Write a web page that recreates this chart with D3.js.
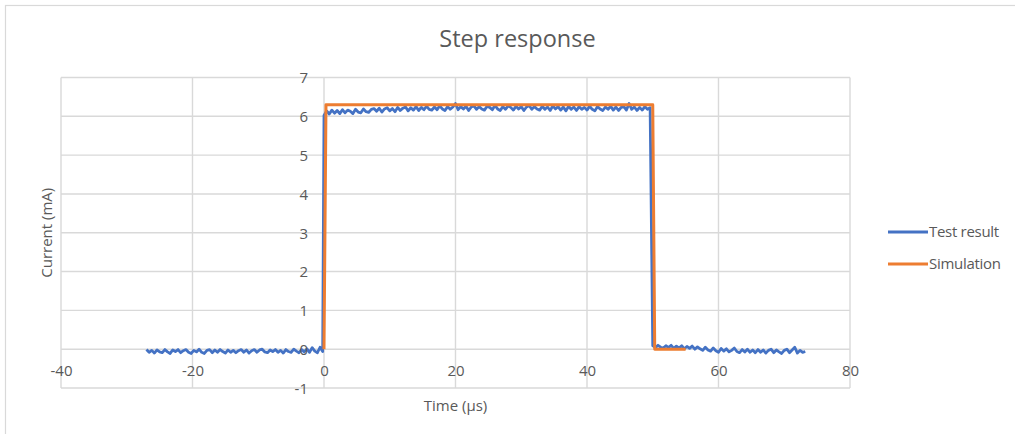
<!DOCTYPE html>
<html>
<head>
<meta charset="utf-8">
<script src="https://cdn.jsdelivr.net/npm/d3@7"></script>
<style>
  html, body { margin: 0; padding: 0; background: #fff; }
  svg { display: block; font-family: "Open Sans", sans-serif; }
</style>
</head>
<body>
<svg id="chart" width="1015" height="434"></svg>
<script>
// Tick values and labels
const xTicks = [-40, -20, 0, 20, 40, 60, 80];
const yTicks = [-1, 0, 1, 2, 3, 4, 5, 6, 7];
const seriesNames = ["Test result", "Simulation"];

// Measured current, sampled every 0.4 µs, in three stretches (mA)
const testPreStart = -27.0;
const testPre = [
  -0.01,-0.08,-0.03,-0.10,-0.02,-0.07,-0.09,-0.01,-0.07,-0.11,-0.02,-0.06,-0.01,-0.09,-0.04,-0.01,-0.08,-0.11,-0.03,-0.07,
   0.00,-0.08,-0.11,-0.03,-0.01,-0.09,-0.02,-0.08,-0.01,-0.06,-0.10,-0.02,-0.08,-0.03,-0.09,-0.04,-0.01,-0.08,-0.02,-0.10,
  -0.04,-0.01,-0.08,-0.02, 0.00,-0.07,-0.09,-0.02,-0.06,-0.01,-0.08,-0.03,-0.10,-0.01,-0.06,-0.08, 0.00,-0.05,-0.09,-0.01,
  -0.07, 0.01,-0.08, 0.04,-0.05,-0.09, 0.05,-0.06
];
const testHighStart = 0.0;
const testHigh = [
  6.02,6.14,6.06,6.16,6.08,6.15,6.07,6.17,6.09,6.16,6.13,6.07,6.18,6.11,6.09,6.19,6.12,6.10,6.18,6.20,
  6.13,6.21,6.11,6.19,6.22,6.14,6.20,6.12,6.23,6.15,6.21,6.24,6.14,6.22,6.16,6.25,6.15,6.23,6.17,6.26,
  6.18,6.16,6.24,6.17,6.27,6.19,6.15,6.25,6.18,6.24,6.33,6.17,6.25,6.19,6.26,6.15,6.24,6.27,6.18,6.25,
  6.19,6.16,6.26,6.23,6.17,6.28,6.19,6.15,6.25,6.18,6.27,6.23,6.16,6.26,6.19,6.25,6.15,6.24,6.28,6.18,
  6.25,6.19,6.16,6.26,6.18,6.24,6.15,6.27,6.19,6.25,6.16,6.24,6.14,6.26,6.18,6.24,6.15,6.25,6.18,6.23,
  6.16,6.26,6.18,6.14,6.25,6.19,6.15,6.24,6.18,6.26,6.16,6.24,6.15,6.23,6.25,6.16,6.33,6.18,6.24,6.15,
  6.23,6.16,6.25,6.18,6.22
];
const testPostStart = 50.0;
const testPost = [
   0.09, 0.04, 0.10, 0.05, 0.03, 0.09, 0.04, 0.10, 0.02, 0.08, 0.03, 0.09, 0.01, 0.07, 0.02, 0.08, 0.00, 0.06, 0.01,-0.03,
   0.05,-0.02,-0.05, 0.03,-0.04,-0.08, 0.02,-0.05, 0.01,-0.07,-0.03, 0.03,-0.06,-0.09,-0.01,-0.07, 0.00,-0.08,-0.02,-0.09,
  -0.01,-0.08,-0.02,-0.10,-0.03, 0.00,-0.09,-0.02,-0.07,-0.11,-0.03, 0.00,-0.09,-0.02, 0.05,-0.10,-0.03,-0.08,-0.06
];
const sampleStep = 0.4;

// Simulated current (µs, mA)
const simTime = [0, 0.3, 50, 50.3, 55];
const simCurrent = [0, 6.3, 6.3, 0, 0];

const svg = d3.select("#chart");
const W = 1015, H = 434;
const plot = { left: 61, right: 850, top: 77.5, bottom: 388 };
const textColor = "#595959";
const gridColor = "#d9d9d9";
const fmt = d => String(d);   // plain hyphen-minus on the axis labels

// Chart frame
svg.append("rect")
  .attr("x", 5.5).attr("y", 5.5)
  .attr("width", W + 10).attr("height", H + 10)
  .attr("fill", "#fff").attr("stroke", "#d9d9d9").attr("stroke-width", 1.2);

const x = d3.scaleLinear().domain([-40, 80]).range([plot.left, plot.right]);
const y = d3.scaleLinear().domain([-1, 7]).range([plot.bottom, plot.top]);

// Gridlines
const grid = svg.append("g");
grid.selectAll("line.v").data(xTicks).join("line")
  .attr("x1", d => x(d)).attr("x2", d => x(d))
  .attr("y1", plot.top).attr("y2", plot.bottom)
  .attr("stroke", gridColor).attr("stroke-width", 1.4);
grid.selectAll("line.h").data(yTicks).join("line")
  .attr("x1", plot.left).attr("x2", plot.right)
  .attr("y1", d => y(d)).attr("y2", d => y(d))
  .attr("stroke", gridColor).attr("stroke-width", 1.4);

// Assemble the measured series
function stretch(start, values) {
  return values.map((v, i) => ({ t: start + i * sampleStep, v }));
}
const testData = [
  ...stretch(testPreStart, testPre),
  ...stretch(testHighStart, testHigh),
  ...stretch(testPostStart, testPost)
];
const simData = simTime.map((t, i) => ({ t, v: simCurrent[i] }));

const line = d3.line().x(d => x(d.t)).y(d => y(d.v));

svg.append("path").datum(testData)
  .attr("d", line).attr("fill", "none")
  .attr("stroke", "#4472C4").attr("stroke-width", 2.8)
  .attr("stroke-linejoin", "round");

svg.append("path").datum(simData)
  .attr("d", line).attr("fill", "none")
  .attr("stroke", "#ED7D31").attr("stroke-width", 3)
  .attr("stroke-linejoin", "round");

// Axes: horizontal axis crosses at 0 mA, vertical axis at 0 µs
const xAxis = d3.axisBottom(x).tickValues(xTicks).tickFormat(fmt).tickSize(0).tickPadding(0);
const gx = svg.append("g").attr("transform", `translate(0,${y(0) + 27})`).call(xAxis);
gx.select(".domain").remove();
gx.selectAll("text").attr("dy", 0).attr("fill", textColor)
  .style("font-size", "15px").style("font-family", "'Open Sans', sans-serif");

const yAxis = d3.axisLeft(y).tickValues(yTicks).tickFormat(fmt).tickSize(0).tickPadding(0);
const gy = svg.append("g").attr("transform", `translate(${x(0) - 16},0)`).call(yAxis);
gy.select(".domain").remove();
gy.selectAll("text").attr("dy", "0.35em").attr("fill", textColor)
  .style("font-size", "15px").style("font-family", "'Open Sans', sans-serif");

// Title and axis titles
svg.append("text")
  .attr("x", (plot.left + plot.right) / 2 + 62).attr("y", 47)
  .attr("text-anchor", "middle").attr("fill", textColor)
  .style("font-size", "23.5px").text("Step response");

svg.append("text")
  .attr("x", (plot.left + plot.right) / 2).attr("y", 411)
  .attr("text-anchor", "middle").attr("fill", textColor)
  .style("font-size", "15px").text("Time (µs)");

svg.append("text")
  .attr("transform", `translate(52,${(plot.top + plot.bottom) / 2}) rotate(-90)`)
  .attr("text-anchor", "middle").attr("fill", textColor)
  .style("font-size", "15px").text("Current (mA)");

// Legend
const legendColors = ["#4472C4", "#ED7D31"];
const legend = svg.append("g");
seriesNames.forEach((name, i) => {
  const ly = 232 + i * 32;
  legend.append("line")
    .attr("x1", 888).attr("x2", 928).attr("y1", ly).attr("y2", ly)
    .attr("stroke", legendColors[i]).attr("stroke-width", 3);
  legend.append("text")
    .attr("x", 929).attr("y", ly + 5)
    .attr("fill", textColor).style("font-size", "15px")
    .style("letter-spacing", "-0.3px")
    .text(name);
});
</script>
</body>
</html>
